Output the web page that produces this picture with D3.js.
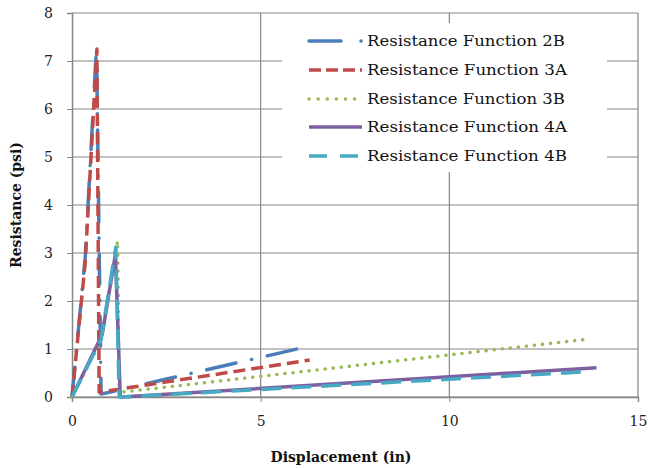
<!DOCTYPE html>
<html>
<head>
<meta charset="utf-8">
<script src="https://cdn.jsdelivr.net/npm/d3@7"></script>
<style>
  body { margin: 0; background: #fff; }
  text { font-family: "DejaVu Serif", "Liberation Serif", serif; }
</style>
</head>
<body>
<div id="svg-container"></div>
<script>
// Chart size and margins
const width = 648;
const height = 468;
const margins = { top: 13, right: 10, bottom: 71, left: 72 };
const innerWidth = width - margins.left - margins.right;
const innerHeight = height - margins.top - margins.bottom;

// Data (displacement in, resistance psi)
const seriesNames = ["Resistance Function 2B", "Resistance Function 3A", "Resistance Function 3B",
                     "Resistance Function 4A", "Resistance Function 4B"];
const x2B = [0, 0.35, 0.65, 0.77, 6.07];
const y2B = [0, 2.9, 7.3, 0.06, 1.02];
const x3A = [0, 0.35, 0.66, 0.72, 6.3];
const y3A = [0, 2.8, 7.25, 0.1, 0.77];
const x3B = [0, 0.78, 1.21, 1.25, 1.3, 13.72];
const y3B = [0, 1.2, 3.25, 0.05, 0.1, 1.21];
const x4A = [0, 0.8, 1.15, 1.28, 1.3, 13.9];
const y4A = [0, 1.3, 2.97, 0, 0, 0.61];
const x4B = [0, 0.77, 1.16, 1.25, 1.3, 13.75];
const y4B = [0, 1.2, 3.12, 0, 0, 0.53];
const xTicks = [0, 5, 10, 15];
const yTicks = [0, 1, 2, 3, 4, 5, 6, 7, 8];

const colors = ["#4a7ebb", "#be4b48", "#98b954", "#7d60a0", "#46aac5"];
const dashes = ["30,16,0.1,16", "12,6", "0.1,8", null, "20,10"];
const legendDashes = ["32,20,0.1,20", "12,5", "0.1,9", null, "18,13"];
const caps = ["round", "butt", "round", "butt", "butt"];

const allSeries = [[x2B, y2B], [x3A, y3A], [x3B, y3B], [x4A, y4A], [x4B, y4B]].map((s, i) => ({
  name: seriesNames[i],
  values: s[0].map((x, j) => ({ x: x, y: s[1][j] }))
}));

const xScale = d3.scaleLinear().domain([0, 15]).range([0, innerWidth]);
const yScale = d3.scaleLinear().domain([0, 8]).range([innerHeight, 0]);

const svg = d3.select("#svg-container")
  .append("svg")
    .attr("width", width)
    .attr("height", height);

const mainG = svg.append("g")
  .attr("transform", `translate(${margins.left}, ${margins.top})`);

// Gridlines
mainG.append("g")
  .selectAll("line")
  .data(yTicks)
  .enter()
  .append("line")
    .attr("x1", 0).attr("x2", innerWidth)
    .attr("y1", d => yScale(d)).attr("y2", d => yScale(d))
    .attr("stroke", "#868686").attr("stroke-width", 1.2);

mainG.append("g")
  .selectAll("line")
  .data(xTicks.slice(1))
  .enter()
  .append("line")
    .attr("x1", d => xScale(d)).attr("x2", d => xScale(d))
    .attr("y1", 0).attr("y2", innerHeight)
    .attr("stroke", "#868686").attr("stroke-width", 1.2);

// Axes
const xAxis = mainG.append("g")
  .attr("transform", `translate(0, ${innerHeight})`)
  .call(d3.axisBottom(xScale).tickValues(xTicks).tickSize(5).tickPadding(14));
const yAxis = mainG.append("g")
  .call(d3.axisLeft(yScale).tickValues(yTicks).tickSize(5).tickPadding(14));

[xAxis, yAxis].forEach(a => {
  a.select(".domain").attr("stroke", "#868686").attr("stroke-width", 1.5);
  a.selectAll(".tick line").attr("stroke", "#868686");
  a.selectAll(".tick text")
    .style("font-family", "'DejaVu Serif', serif")
    .style("font-size", "14px")
    .attr("fill", "#222");
});

// Lines
const line = d3.line()
  .x(d => xScale(d.x))
  .y(d => yScale(d.y));

mainG.selectAll(".series")
  .data(allSeries)
  .enter()
  .append("path")
    .attr("d", d => line(d.values))
    .attr("fill", "none")
    .attr("stroke", (d, i) => colors[i])
    .attr("stroke-width", 3.5)
    .attr("stroke-linejoin", "round")
    .attr("stroke-linecap", (d, i) => caps[i])
    .attr("stroke-dasharray", (d, i) => dashes[i]);

// Legend (white box hides the gridlines behind it)
const legend = svg.append("g");
legend.append("rect")
  .attr("x", 282).attr("y", 23)
  .attr("width", 325).attr("height", 149)
  .attr("fill", "#fff");
const legendY = [41, 70, 99, 127, 156];
allSeries.forEach((s, i) => {
  legend.append("line")
    .attr("x1", 309).attr("x2", 362)
    .attr("y1", legendY[i]).attr("y2", legendY[i])
    .attr("stroke", colors[i])
    .attr("stroke-width", 3.5)
    .attr("stroke-linecap", caps[i])
    .attr("stroke-dasharray", legendDashes[i]);
  legend.append("text")
    .attr("x", 367)
    .attr("y", legendY[i] + 5)
    .attr("textLength", i === 0 || i === 2 ? 198 : 200)
    .attr("lengthAdjust", "spacingAndGlyphs")
    .style("font-size", "14px")
    .attr("fill", "#111")
    .text(s.name);
});

// Axis titles
svg.append("text")
  .attr("x", margins.left + innerWidth / 2 - 14)
  .attr("y", 462)
  .attr("text-anchor", "middle")
  .style("font-size", "14px")
  .style("font-weight", "bold")
  .attr("fill", "#111")
  .text("Displacement (in)");

svg.append("text")
  .attr("transform", "translate(21, 205) rotate(-90)")
  .attr("text-anchor", "middle")
  .style("font-size", "14px")
  .style("font-weight", "bold")
  .attr("fill", "#111")
  .text("Resistance (psi)");
</script>
</body>
</html>
